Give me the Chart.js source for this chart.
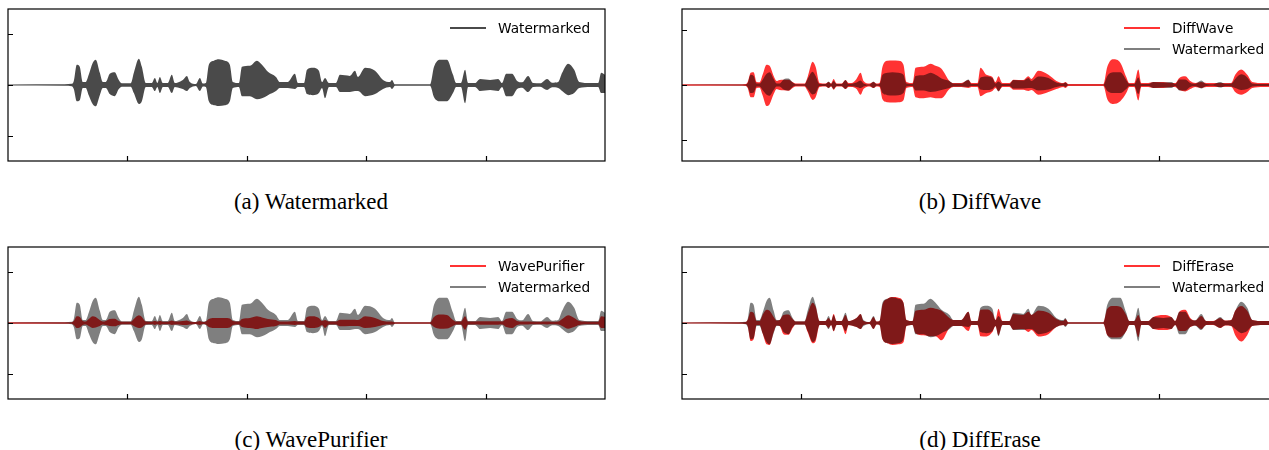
<!DOCTYPE html>
<html lang="en">
<head>
    <meta charset="UTF-8">
    <title>Watermark removal waveforms</title>
    <script src="https://cdn.jsdelivr.net/npm/chart.js"></script>
    <style>
        html, body { margin: 0; padding: 0; overflow: hidden; background: white; }
        body { position: relative; width: 1269px; height: 450px; }
        canvas { position: absolute; }
        .legend { position: absolute; font-family: "DejaVu Sans", sans-serif; font-size: 13.7px; color: black; }
        .legend div { display: flex; align-items: center; height: 21px; white-space: nowrap; }
        .legend .h { display: inline-block; width: 36px; height: 2px; margin-right: 12px; }
        .caption { position: absolute; width: 400px; text-align: center; font-family: "Liberation Serif", "Times New Roman", serif; font-size: 23px; line-height: 23px; white-space: nowrap; }
    </style>
</head>
<body>
    <canvas id="chartA" width="601" height="156" style="left:6px;top:7px"></canvas>
    <canvas id="chartB" width="600" height="156" style="left:680px;top:7px"></canvas>
    <canvas id="chartC" width="601" height="156" style="left:6px;top:245px"></canvas>
    <canvas id="chartD" width="600" height="156" style="left:680px;top:245px"></canvas>

    <div class="legend" style="left:450px;top:17px">
        <div><span class="h" style="background:rgba(0,0,0,0.71)"></span>Watermarked</div>
    </div>
    <div class="legend" style="left:1124px;top:17px">
        <div><span class="h" style="background:rgba(255,0,0,0.8)"></span>DiffWave</div>
        <div><span class="h" style="background:rgba(0,0,0,0.5)"></span>Watermarked</div>
    </div>
    <div class="legend" style="left:450px;top:255px">
        <div><span class="h" style="background:rgba(255,0,0,0.8)"></span>WavePurifier</div>
        <div><span class="h" style="background:rgba(0,0,0,0.5)"></span>Watermarked</div>
    </div>
    <div class="legend" style="left:1124px;top:255px">
        <div><span class="h" style="background:rgba(255,0,0,0.8)"></span>DiffErase</div>
        <div><span class="h" style="background:rgba(0,0,0,0.5)"></span>Watermarked</div>
    </div>

    <div class="caption" style="left:111px;top:190px">(a) Watermarked</div>
    <div class="caption" style="left:780px;top:190px">(b) DiffWave</div>
    <div class="caption" style="left:111px;top:428px">(c) WavePurifier</div>
    <div class="caption" style="left:780px;top:428px">(d) DiffErase</div>

    <script>
        // time (s) of each envelope vertex
        var time = [
            0, 0.475, 0.534, 0.551, 0.576, 0.601, 0.626, 0.651, 0.676, 0.710,
            0.735, 0.769, 0.794, 0.819, 0.852, 0.894, 0.928, 0.953, 1.028, 1.054,
            1.096, 1.121, 1.154, 1.204, 1.230, 1.251, 1.272, 1.297, 1.339, 1.372,
            1.397, 1.422, 1.464, 1.498, 1.523, 1.573, 1.607, 1.632, 1.657, 1.682,
            1.724, 1.766, 1.816, 1.858, 1.883, 1.934, 1.959, 2.026, 2.085, 2.127,
            2.177, 2.244, 2.277, 2.344, 2.403, 2.428, 2.479, 2.504, 2.554, 2.604,
            2.630, 2.655, 2.688, 2.747, 2.780, 2.864, 2.906, 2.931, 2.990, 3.074,
            3.141, 3.199, 3.216, 3.241, 3.535, 3.568, 3.618, 3.677, 3.727, 3.753,
            3.794, 3.828, 3.853, 3.912, 3.954, 4.038, 4.105, 4.138, 4.172, 4.222,
            4.264, 4.306, 4.356, 4.398, 4.457, 4.515, 4.557, 4.608, 4.641, 4.691,
            4.742, 4.784, 4.876, 4.943, 4.968, 5.0
        ];

        // watermarked signal, upper / lower envelope
        var wmTop = [
            .006, .008, .012, .04, .20, .18, .03, .03, .10, .22,
            .25, .12, .03, .03, .11, .127, .05, .017, .017, .12,
            .26, .18, .02, .02, .07, .02, .08, .02, .02, .10,
            .02, .025, .05, .09, .03, .01, .07, .015, .02, .20,
            .24, .253, .24, .20, .03, .02, .18, .19, .24, .20,
            .13, .08, .03, .03, .11, .02, .02, .15, .17, .14,
            .03, .07, .02, .02, .10, .09, .14, .08, .17, .14,
            .05, .03, .05, .007, .007, .18, .25, .25, .10, .02,
            .02, .15, .02, .02, .06, .05, .06, .02, .11, .11,
            .04, .027, .09, .02, .017, .06, .023, .03, .12, .21,
            .15, .03, .02, .02, .12, .10
        ];
        var wmBot = [
            -.006, -.008, -.012, -.04, -.16, -.15, -.03, -.03, -.10, -.19,
            -.21, -.10, -.03, -.03, -.09, -.11, -.04, -.017, -.017, -.08,
            -.187, -.16, -.02, -.02, -.06, -.02, -.08, -.02, -.02, -.08,
            -.02, -.025, -.04, -.06, -.03, -.01, -.06, -.015, -.02, -.16,
            -.20, -.207, -.20, -.16, -.03, -.02, -.11, -.11, -.14, -.13,
            -.10, -.06, -.03, -.03, -.04, -.02, -.02, -.09, -.10, -.08,
            -.03, -.13, -.02, -.02, -.07, -.07, -.06, -.06, -.11, -.09,
            -.04, -.02, -.04, -.007, -.007, -.12, -.16, -.16, -.08, -.02,
            -.02, -.18, -.02, -.02, -.06, -.05, -.06, -.02, -.11, -.11,
            -.04, -.027, -.07, -.02, -.017, -.05, -.023, -.03, -.06, -.10,
            -.08, -.03, -.02, -.02, -.08, -.08
        ];

        // DiffWave output
        var dwTop = [
            .016, .016, .02, .06, .24, .254, .06, .054, .20, .40,
            .38, .18, .08, .10, .106, .106, .06, .03, .03, .16,
            .46, .36, .04, .03, .06, .03, .12, .03, .03, .10,
            .04, .04, .12, .24, .08, .03, .06, .03, .04, .36,
            .48, .486, .48, .40, .06, .04, .34, .36, .42, .38,
            .32, .08, .04, .04, .10, .04, .04, .34, .20, .16,
            .06, .174, .04, .04, .106, .10, .174, .12, .28, .20,
            .08, .04, .06, .02, .02, .36, .506, .44, .16, .04,
            .04, .306, .04, .04, .06, .06, .04, .04, .14, .174,
            .08, .04, .06, .04, .04, .04, .04, .04, .20, .306,
            .20, .06, .04, .04, .08, .08
        ];
        var dwBot = [
            -.016, -.016, -.02, -.06, -.24, -.24, -.06, -.054, -.20, -.414,
            -.38, -.18, -.08, -.10, -.106, -.114, -.06, -.03, -.03, -.12,
            -.294, -.24, -.04, -.03, -.06, -.03, -.094, -.03, -.03, -.08,
            -.04, -.04, -.08, -.194, -.08, -.03, -.06, -.03, -.04, -.28,
            -.34, -.346, -.34, -.30, -.06, -.04, -.24, -.26, -.24, -.26,
            -.26, -.08, -.04, -.04, -.06, -.04, -.04, -.22, -.16, -.12,
            -.06, -.12, -.04, -.04, -.094, -.094, -.12, -.10, -.194, -.14,
            -.08, -.04, -.06, -.02, -.02, -.28, -.374, -.32, -.16, -.04,
            -.04, -.306, -.04, -.04, -.06, -.06, -.04, -.04, -.10, -.126,
            -.08, -.04, -.06, -.04, -.04, -.04, -.04, -.04, -.14, -.194,
            -.14, -.06, -.04, -.04, -.08, -.08
        ];

        // WavePurifier output
        var wpTop = [
            .007, .007, .008, .02, .067, .06, .02, .015, .04, .067,
            .06, .03, .015, .02, .04, .043, .02, .013, .013, .04,
            .077, .06, .015, .013, .02, .013, .02, .013, .013, .025,
            .015, .015, .02, .025, .015, .01, .02, .01, .015, .04,
            .05, .05, .05, .045, .02, .015, .04, .05, .067, .055,
            .04, .03, .015, .015, .02, .015, .015, .06, .067, .05,
            .02, .03, .015, .015, .033, .033, .033, .03, .067, .05,
            .02, .015, .015, .007, .007, .06, .083, .08, .03, .015,
            .015, .067, .015, .015, .017, .017, .017, .015, .04, .05,
            .02, .015, .015, .013, .013, .015, .013, .015, .04, .077,
            .05, .02, .013, .013, .067, .06
        ];
        var wpBot = [
            -.007, -.007, -.008, -.02, -.05, -.045, -.02, -.015, -.03, -.05,
            -.045, -.03, -.015, -.02, -.03, -.033, -.02, -.013, -.013, -.03,
            -.05, -.045, -.015, -.013, -.02, -.013, -.02, -.013, -.013, -.02,
            -.015, -.015, -.02, -.02, -.015, -.01, -.02, -.01, -.015, -.04,
            -.05, -.05, -.05, -.045, -.02, -.015, -.04, -.05, -.06, -.05,
            -.04, -.03, -.015, -.015, -.02, -.015, -.015, -.045, -.05, -.04,
            -.02, -.05, -.015, -.015, -.033, -.03, -.03, -.03, -.05, -.04,
            -.02, -.015, -.015, -.007, -.007, -.04, -.057, -.055, -.03, -.015,
            -.015, -.067, -.015, -.015, -.017, -.017, -.017, -.015, -.04, -.05,
            -.02, -.015, -.015, -.013, -.013, -.015, -.013, -.015, -.03, -.057,
            -.04, -.02, -.013, -.013, -.05, -.05
        ];

        // DiffErase output
        var deTop = [
            .006, .007, .01, .03, .11, .10, .02, .02, .08, .13,
            .12, .06, .025, .03, .08, .083, .04, .015, .015, .09,
            .20, .16, .02, .02, .05, .02, .09, .02, .02, .08,
            .02, .025, .05, .09, .02, .01, .06, .015, .02, .18,
            .24, .257, .25, .20, .03, .02, .12, .13, .15, .14,
            .12, .05, .03, .03, .11, .02, .02, .13, .133, .10,
            .03, .14, .02, .02, .09, .08, .11, .08, .123, .10,
            .04, .02, .04, .008, .008, .14, .167, .16, .08, .02,
            .02, .08, .02, .02, .06, .08, .06, .02, .11, .13,
            .05, .025, .07, .02, .02, .05, .025, .03, .12, .167,
            .12, .03, .02, .02, .06, .05
        ];
        var deBot = [
            -.006, -.007, -.01, -.03, -.177, -.16, -.02, -.02, -.10, -.21,
            -.217, -.09, -.025, -.03, -.11, -.117, -.05, -.015, -.015, -.09,
            -.20, -.18, -.02, -.02, -.05, -.02, -.083, -.02, -.02, -.11,
            -.02, -.025, -.04, -.06, -.02, -.01, -.06, -.015, -.02, -.16,
            -.20, -.217, -.21, -.19, -.03, -.02, -.10, -.12, -.13, -.13,
            -.17, -.05, -.03, -.03, -.08, -.02, -.02, -.13, -.133, -.09,
            -.03, -.12, -.02, -.02, -.067, -.06, -.09, -.07, -.133, -.11,
            -.04, -.02, -.03, -.008, -.008, -.12, -.143, -.14, -.08, -.02,
            -.02, -.14, -.02, -.02, -.06, -.07, -.06, -.02, -.08, -.08,
            -.04, -.025, -.06, -.02, -.02, -.05, -.025, -.03, -.12, -.183,
            -.12, -.03, -.02, -.02, -.05, -.05
        ];

        // axis ticks (no labels in the figure)
        var xTicks = [1, 2, 3, 4];
        var yTicks = [-0.5, 0, 0.5];
        var yTicksDiffWave = [-1.09, 0, 1.09];
        var yLimit = 0.75;
        var yLimitDiffWave = 1.5;

        var DARK = 'rgba(0,0,0,0.71)';
        var GRAY = 'rgba(0,0,0,0.5)';
        var RED = 'rgba(255,0,0,0.8)';

        function points(vals) {
            return time.map(function (t, i) { return { x: t, y: vals[i] }; });
        }

        // upper dataset filled down to the lower one
        function band(top, bot, color, order) {
            var common = {
                borderColor: 'rgba(0,0,0,0)', borderWidth: 0, pointRadius: 0,
                cubicInterpolationMode: 'monotone', order: order
            };
            return [
                Object.assign({ data: points(top), fill: '+1', backgroundColor: color }, common),
                Object.assign({ data: points(bot), fill: false }, common)
            ];
        }

        // box + inward ticks, like the matplotlib axes
        var frame = {
            id: 'frame',
            afterDraw: function (chart, args, opts) {
                var ctx = chart.ctx, a = chart.chartArea;
                var x = chart.scales.x, y = chart.scales.y;
                ctx.save();
                ctx.strokeStyle = '#000';
                ctx.lineWidth = 1.2;
                ctx.strokeRect(a.left, a.top, a.right - a.left, a.bottom - a.top);
                ctx.beginPath();
                xTicks.forEach(function (v) {
                    var px = Math.round(x.getPixelForValue(v)) + 0.5;
                    ctx.moveTo(px, a.bottom);
                    ctx.lineTo(px, a.bottom - 5);
                });
                opts.ticks.forEach(function (v) {
                    var py = Math.round(y.getPixelForValue(v)) + 0.5;
                    ctx.moveTo(a.left, py);
                    ctx.lineTo(a.left + 5, py);
                });
                ctx.stroke();
                ctx.restore();
            }
        };

        function makeChart(id, datasets, lim, ticks) {
            return new Chart(document.getElementById(id), {
                type: 'line',
                data: { datasets: datasets },
                options: {
                    responsive: false,
                    animation: false,
                    layout: { padding: 2 },
                    plugins: { legend: { display: false }, tooltip: { enabled: false }, frame: { ticks: ticks } },
                    scales: {
                        x: { type: 'linear', min: 0, max: 5, display: false },
                        y: { min: -lim, max: lim, display: false }
                    }
                },
                plugins: [frame]
            });
        }

        makeChart('chartA', band(wmTop, wmBot, DARK, 1), yLimit, yTicks);
        makeChart('chartB', band(dwTop, dwBot, RED, 2).concat(band(wmTop, wmBot, GRAY, 1)), yLimitDiffWave, yTicksDiffWave);
        makeChart('chartC', band(wpTop, wpBot, RED, 2).concat(band(wmTop, wmBot, GRAY, 1)), yLimit, yTicks);
        makeChart('chartD', band(deTop, deBot, RED, 2).concat(band(wmTop, wmBot, GRAY, 1)), yLimit, yTicks);
    </script>
</body>
</html>
